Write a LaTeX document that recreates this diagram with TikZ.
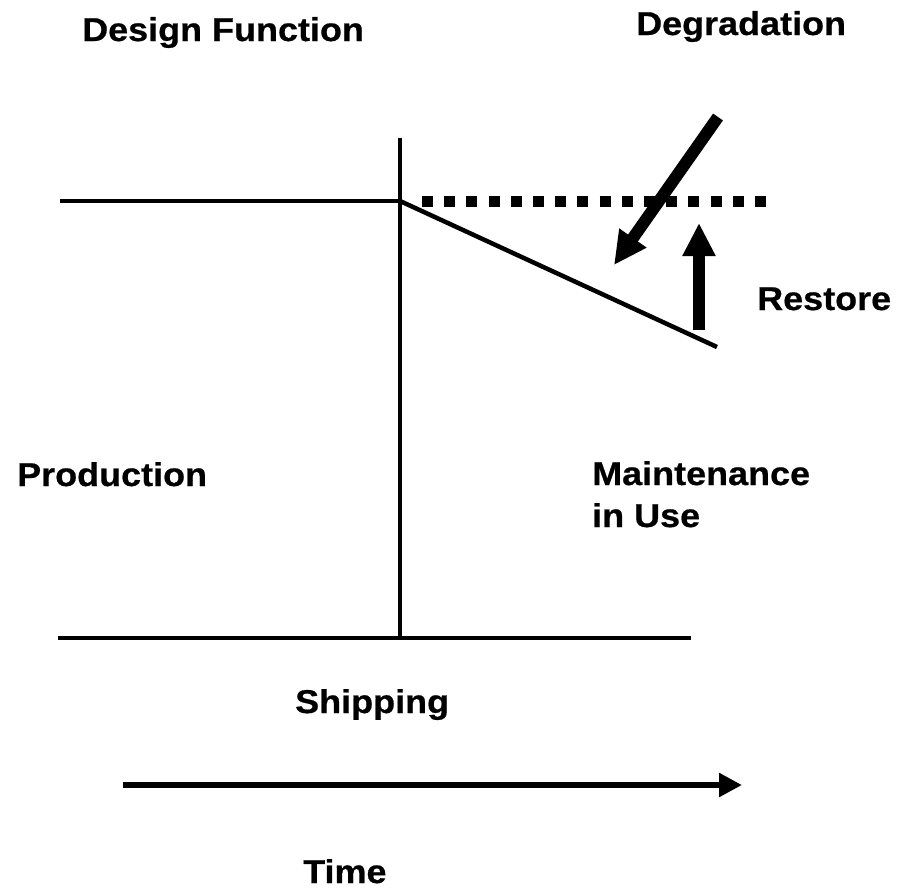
\documentclass[tikz,border=0pt]{standalone}
\usepackage{fontspec}
\setmainfont{Liberation Sans}[FakeStretch=1.09,BoldFeatures={FakeBold=0.6}]
\usetikzlibrary{arrows.meta}

\begin{document}
\begin{tikzpicture}[x=1pt,y=-1pt,
    label/.style={font=\fontsize{33}{42}\selectfont\bfseries, anchor=base west, inner sep=0pt, align=left},
    axis/.style={line width=4.5pt},
    bigarrow/.style={line width=12pt, -{Triangle[length=33pt,width=31pt]}},
    timearrow/.style={line width=5.5pt, -{Triangle[length=23pt,width=23pt]}},
    target/.style={line width=11pt, dash pattern=on 11pt off 11.2pt}]
  \useasboundingbox (0,0) rectangle (899,895);

  % key points of the chart
  \coordinate (prodstart) at (60,201);
  \coordinate (ship) at (400,201);
  \coordinate (shiptop) at (400,138);
  \coordinate (shipbase) at (400,638);
  \coordinate (baseleft) at (58,638);
  \coordinate (baseright) at (691,638);
  \coordinate (wornend) at (717,347);
  \coordinate (targetstart) at (422,201);
  \coordinate (targetend) at (766,201);
  \coordinate (degtail) at (718,117);
  \coordinate (degtip) at (614,265);
  \coordinate (restail) at (699,330);
  \coordinate (restip) at (699,223);
  \coordinate (timetail) at (123,785);
  \coordinate (timetip) at (742,785);

  % axes and function levels
  \draw[axis] (shiptop) -- (shipbase);
  \draw[axis] (baseleft) -- (baseright);
  \draw[axis] (prodstart) -- (ship);
  \draw[axis] (ship) -- (wornend);
  \draw[target] (targetstart) -- (targetend);

  % arrows
  \draw[bigarrow] (degtail) -- (degtip);
  \draw[bigarrow] (restail) -- (restip);
  \draw[timearrow] (timetail) -- (timetip);

  % labels
  \node[label] (design) at (82,41) {Design Function};
  \node[label] (degr) at (636,35) {Degradation};
  \node[label] (restore) at (757,310) {Restore};
  \node[label] (prod) at (17,486) {Production};
  \node[label] (maint) at (592,527) {Maintenance\\in Use};
  \node[label] (shipping) at (295,713) {Shipping};
  \node[label] (time) at (303,883) {Time};
\end{tikzpicture}
\end{document}
